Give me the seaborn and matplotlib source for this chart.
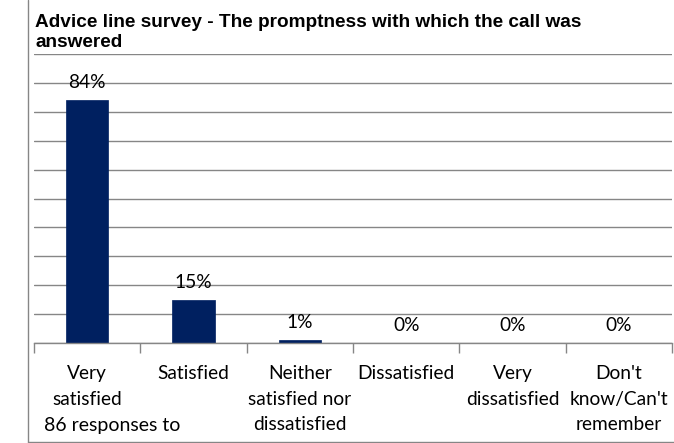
import matplotlib
matplotlib.use("Agg")
import matplotlib.pyplot as plt
import seaborn as sns
from matplotlib.lines import Line2D
from matplotlib.ticker import MultipleLocator, FixedLocator

categories = ["Very\nsatisfied", "Satisfied", "Neither\nsatisfied nor\ndissatisfied",
              "Dissatisfied", "Very\ndissatisfied", "Don't\nknow/Can't\nremember"]
values = [0.84, 0.15, 0.01, 0.0, 0.0, 0.0]
value_labels = ["84%", "15%", "1%", "0%", "0%", "0%"]
title_lines = ["Advice line survey - The promptness with which the call was", "answered"]
footnote = "86 responses to"

sns.set_theme(style="white")
plt.rcParams['font.family'] = ['Lato', 'DejaVu Sans']
plt.rcParams['text.color'] = 'black'

W, H = 674, 443
fig = plt.figure(figsize=(W / 100, H / 100), dpi=100)
ax = fig.add_axes([34 / W, (H - 343) / H, (672 - 34) / W, (343 - 54) / H])

bar_color = "#002060"
grid_color = "#868686"
fs = 13.8

sns.barplot(x=list(range(len(categories))), y=values, color=bar_color, width=0.4,
            ax=ax, saturation=1, edgecolor=bar_color, linewidth=0.5)

ax.set_xlim(-0.5, len(categories) - 0.5)
ax.set_ylim(0, 1.0)
ax.yaxis.set_major_locator(MultipleLocator(0.1))
ax.set_yticklabels([])
ax.tick_params(axis='y', length=0)
ax.grid(axis='y', color=grid_color, linewidth=1)
ax.set_axisbelow(True)
for s in ["top", "right", "left"]:
    ax.spines[s].set_visible(False)
ax.spines["bottom"].set_color(grid_color)
ax.spines["bottom"].set_linewidth(1)

ax.set_xticks(range(len(categories)))
ax.set_xticklabels(categories, fontsize=fs, linespacing=1.6, color="black")
ax.tick_params(axis='x', which='major', length=0, pad=16)
ax.xaxis.set_minor_locator(FixedLocator([i - 0.5 for i in range(len(categories) + 1)]))
ax.tick_params(axis='x', which='minor', length=7, width=1, color=grid_color, direction='out', bottom=True)
ax.set_xlabel("")
ax.set_ylabel("")

for i, (v, lab) in enumerate(zip(values, value_labels)):
    ax.annotate(lab, (i, v), xytext=(0, 12.5), textcoords="offset points",
                ha="center", va="center", fontsize=fs, color="black")

fig.text(35 / W, 1 - 27 / H, title_lines[0], fontsize=13.7, fontweight="bold",
         family=["Liberation Sans", "DejaVu Sans"], va="baseline", ha="left", color="black")
fig.text(35 / W, 1 - 47 / H, title_lines[1], fontsize=13.7, fontweight="bold",
         family=["Liberation Sans", "DejaVu Sans"], va="baseline", ha="left", color="black")

fig.text(44 / W, 1 - 425 / H, footnote, fontsize=14, va="center", ha="left", color="black")

fig.add_artist(Line2D([27.5 / W, 27.5 / W], [1 - 441.5 / H, 1.0], transform=fig.transFigure,
                      color=grid_color, linewidth=1))
fig.add_artist(Line2D([27.5 / W, 1.0], [1 - 441.5 / H, 1 - 441.5 / H], transform=fig.transFigure,
                      color=grid_color, linewidth=1))

fig.savefig("out.png", dpi=100)
